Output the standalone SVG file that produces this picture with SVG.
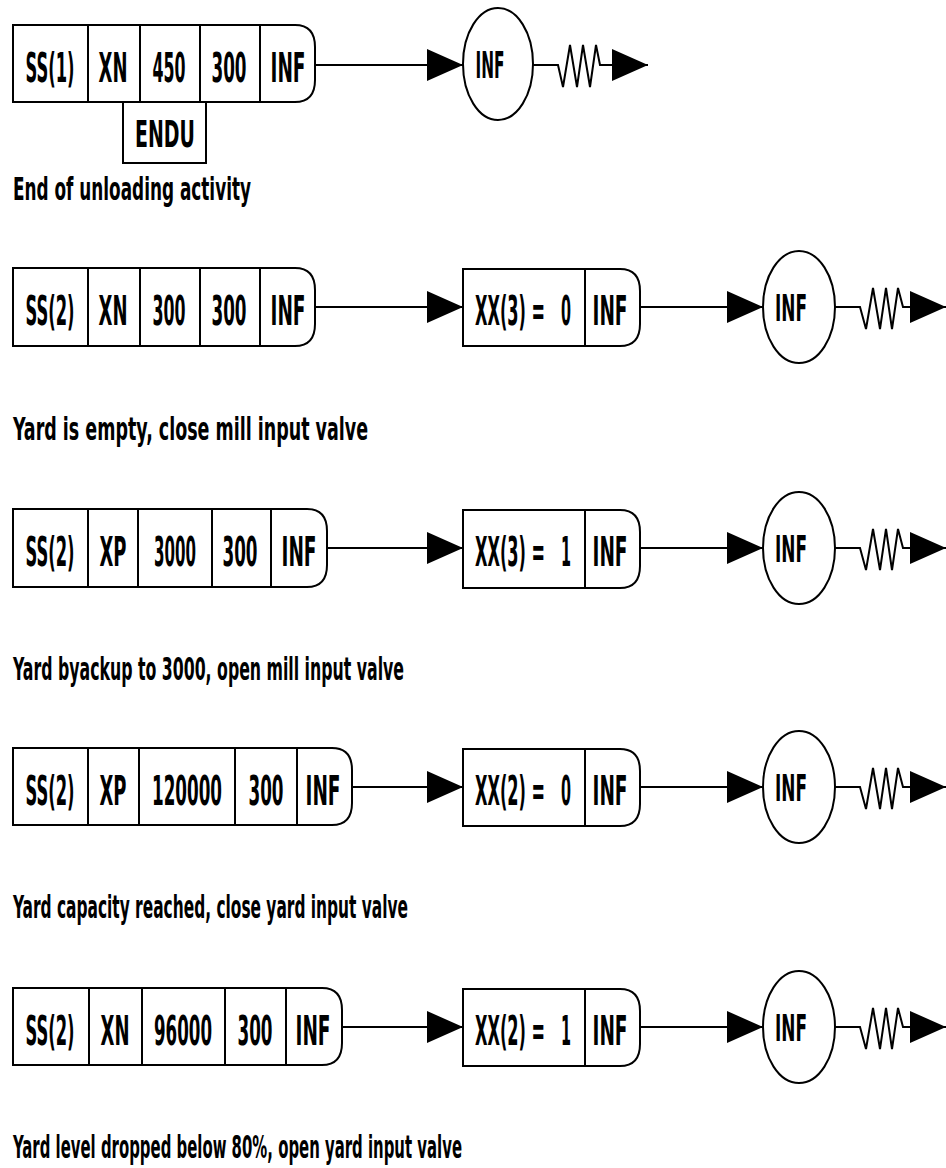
<svg xmlns="http://www.w3.org/2000/svg" width="946" height="1168" viewBox="0 0 946 1168">
<style>
.bx{fill:#fff;stroke:#000;stroke-width:2}
.ln{fill:none;stroke:#000;stroke-width:2}
.t{font-family:"Liberation Sans Narrow","DejaVu Sans Condensed","Liberation Sans",Arial,sans-serif;font-weight:bold;fill:#000;text-anchor:middle}
.s{text-anchor:start}
.big{font-size:41px}
.mid{font-size:37px}
.lab{font-family:"Liberation Sans Narrow","DejaVu Sans Condensed","Liberation Sans",Arial,sans-serif;font-weight:bold;font-size:32px;fill:#000}
</style>
<defs>
<marker id="ah" markerUnits="userSpaceOnUse" markerWidth="36" markerHeight="34" refX="36" refY="17" orient="auto">
<path d="M0,1 L36,17 L0,33 Z" fill="#000"/>
</marker>
</defs>

<g id="row1-signal">
<path class="bx" d="M13,25 H295 Q315,25 315,47 V80 Q315,102 295,102 H13 Z"/>
<path class="ln" d="M88,25 V102 M140,25 V102 M200,25 V102 M260,25 V102"/>
<text class="t big" transform="translate(50,82) scale(0.45,1)" textLength="108.9" lengthAdjust="spacingAndGlyphs">SS(1)</text>
<text class="t big" transform="translate(113,82) scale(0.45,1)" textLength="64.4" lengthAdjust="spacingAndGlyphs">XN</text>
<text class="t big" transform="translate(169,82) scale(0.45,1)" textLength="73.3" lengthAdjust="spacingAndGlyphs">450</text>
<text class="t big" transform="translate(229,82) scale(0.45,1)" textLength="77.8" lengthAdjust="spacingAndGlyphs">300</text>
<text class="t big" transform="translate(288,82) scale(0.45,1)" textLength="77.8" lengthAdjust="spacingAndGlyphs">INF</text>
</g>
<g id="row1-endu">
<rect class="bx" x="123" y="102" width="83" height="61"/>
<text class="t mid" transform="translate(165,147) scale(0.5,1)" textLength="120" lengthAdjust="spacingAndGlyphs">ENDU</text>
</g>
<g id="row1-activity">
<ellipse class="bx" cx="498" cy="64" rx="35" ry="56"/>
<text class="t mid" transform="translate(490,78) scale(0.5,1)" textLength="58" lengthAdjust="spacingAndGlyphs">INF</text>
</g>
<text class="lab" transform="translate(13,200) scale(0.55,1)" textLength="432.7" lengthAdjust="spacingAndGlyphs">End of unloading activity</text>

<g id="row2-signal">
<path class="bx" d="M13,268 H295 Q315,268 315,290 V324 Q315,346 295,346 H13 Z"/>
<path class="ln" d="M88,268 V346 M140,268 V346 M200,268 V346 M260,268 V346"/>
<text class="t big" transform="translate(50,325) scale(0.45,1)" textLength="108.9" lengthAdjust="spacingAndGlyphs">SS(2)</text>
<text class="t big" transform="translate(113,325) scale(0.45,1)" textLength="64.4" lengthAdjust="spacingAndGlyphs">XN</text>
<text class="t big" transform="translate(169,325) scale(0.45,1)" textLength="73.3" lengthAdjust="spacingAndGlyphs">300</text>
<text class="t big" transform="translate(229,325) scale(0.45,1)" textLength="77.8" lengthAdjust="spacingAndGlyphs">300</text>
<text class="t big" transform="translate(288,325) scale(0.45,1)" textLength="77.8" lengthAdjust="spacingAndGlyphs">INF</text>
</g>
<g id="row2-assign">
<path class="bx" d="M463,269 H620 Q640,269 640,291 V324 Q640,346 620,346 H463 Z"/>
<path class="ln" d="M585,269 V346"/>
<text class="t s big" transform="translate(475,325) scale(0.45,1)" textLength="155.6" lengthAdjust="spacingAndGlyphs">XX(3) =</text>
<text class="t s big" transform="translate(561,325) scale(0.45,1)" textLength="22.2" lengthAdjust="spacingAndGlyphs">0</text>
<text class="t big" transform="translate(610,325) scale(0.45,1)" textLength="77.8" lengthAdjust="spacingAndGlyphs">INF</text>
</g>
<g id="row2-activity">
<ellipse class="bx" cx="799" cy="307" rx="36" ry="56"/>
<text class="t mid" transform="translate(791,321) scale(0.5,1)" textLength="64" lengthAdjust="spacingAndGlyphs">INF</text>
</g>
<text class="lab" transform="translate(13,440) scale(0.55,1)" textLength="645.5" lengthAdjust="spacingAndGlyphs">Yard is empty, close mill input valve</text>

<g id="row3-signal">
<path class="bx" d="M13,509 H307 Q327,509 327,531 V565 Q327,587 307,587 H13 Z"/>
<path class="ln" d="M88,509 V587 M138,509 V587 M212,509 V587 M271,509 V587"/>
<text class="t big" transform="translate(50,566) scale(0.45,1)" textLength="108.9" lengthAdjust="spacingAndGlyphs">SS(2)</text>
<text class="t big" transform="translate(113,566) scale(0.45,1)" textLength="60" lengthAdjust="spacingAndGlyphs">XP</text>
<text class="t big" transform="translate(175,566) scale(0.45,1)" textLength="93.3" lengthAdjust="spacingAndGlyphs">3000</text>
<text class="t big" transform="translate(240,566) scale(0.45,1)" textLength="77.8" lengthAdjust="spacingAndGlyphs">300</text>
<text class="t big" transform="translate(299,566) scale(0.45,1)" textLength="77.8" lengthAdjust="spacingAndGlyphs">INF</text>
</g>
<g id="row3-assign">
<path class="bx" d="M463,510 H620 Q640,510 640,532 V566 Q640,588 620,588 H463 Z"/>
<path class="ln" d="M585,510 V588"/>
<text class="t s big" transform="translate(475,566) scale(0.45,1)" textLength="155.6" lengthAdjust="spacingAndGlyphs">XX(3) =</text>
<text class="t s big" transform="translate(561,566) scale(0.45,1)" textLength="22.2" lengthAdjust="spacingAndGlyphs">1</text>
<text class="t big" transform="translate(610,566) scale(0.45,1)" textLength="77.8" lengthAdjust="spacingAndGlyphs">INF</text>
</g>
<g id="row3-activity">
<ellipse class="bx" cx="799" cy="548" rx="36" ry="56"/>
<text class="t mid" transform="translate(791,562) scale(0.5,1)" textLength="64" lengthAdjust="spacingAndGlyphs">INF</text>
</g>
<text class="lab" transform="translate(13,680) scale(0.55,1)" textLength="710.9" lengthAdjust="spacingAndGlyphs">Yard byackup to 3000, open mill input valve</text>

<g id="row4-signal">
<path class="bx" d="M13,748 H332 Q352,748 352,770 V803 Q352,825 332,825 H13 Z"/>
<path class="ln" d="M88,748 V825 M139,748 V825 M235,748 V825 M297,748 V825"/>
<text class="t big" transform="translate(50,805) scale(0.45,1)" textLength="108.9" lengthAdjust="spacingAndGlyphs">SS(2)</text>
<text class="t big" transform="translate(113,805) scale(0.45,1)" textLength="60" lengthAdjust="spacingAndGlyphs">XP</text>
<text class="t big" transform="translate(187,805) scale(0.45,1)" textLength="155.6" lengthAdjust="spacingAndGlyphs">120000</text>
<text class="t big" transform="translate(266,805) scale(0.45,1)" textLength="77.8" lengthAdjust="spacingAndGlyphs">300</text>
<text class="t big" transform="translate(323,805) scale(0.45,1)" textLength="77.8" lengthAdjust="spacingAndGlyphs">INF</text>
</g>
<g id="row4-assign">
<path class="bx" d="M463,749 H620 Q640,749 640,771 V804 Q640,826 620,826 H463 Z"/>
<path class="ln" d="M585,749 V826"/>
<text class="t s big" transform="translate(475,805) scale(0.45,1)" textLength="155.6" lengthAdjust="spacingAndGlyphs">XX(2) =</text>
<text class="t s big" transform="translate(561,805) scale(0.45,1)" textLength="22.2" lengthAdjust="spacingAndGlyphs">0</text>
<text class="t big" transform="translate(610,805) scale(0.45,1)" textLength="77.8" lengthAdjust="spacingAndGlyphs">INF</text>
</g>
<g id="row4-activity">
<ellipse class="bx" cx="799" cy="787" rx="36" ry="56"/>
<text class="t mid" transform="translate(791,801) scale(0.5,1)" textLength="64" lengthAdjust="spacingAndGlyphs">INF</text>
</g>
<text class="lab" transform="translate(13,918) scale(0.55,1)" textLength="718.2" lengthAdjust="spacingAndGlyphs">Yard capacity reached, close yard input valve</text>

<g id="row5-signal">
<path class="bx" d="M13,988 H322 Q342,988 342,1010 V1043 Q342,1065 322,1065 H13 Z"/>
<path class="ln" d="M89,988 V1065 M142,988 V1065 M225,988 V1065 M286,988 V1065"/>
<text class="t big" transform="translate(50,1045) scale(0.45,1)" textLength="108.9" lengthAdjust="spacingAndGlyphs">SS(2)</text>
<text class="t big" transform="translate(115,1045) scale(0.45,1)" textLength="64.4" lengthAdjust="spacingAndGlyphs">XN</text>
<text class="t big" transform="translate(183,1045) scale(0.45,1)" textLength="128.9" lengthAdjust="spacingAndGlyphs">96000</text>
<text class="t big" transform="translate(255,1045) scale(0.45,1)" textLength="77.8" lengthAdjust="spacingAndGlyphs">300</text>
<text class="t big" transform="translate(313,1045) scale(0.45,1)" textLength="77.8" lengthAdjust="spacingAndGlyphs">INF</text>
</g>
<g id="row5-assign">
<path class="bx" d="M463,989 H620 Q640,989 640,1011 V1044 Q640,1066 620,1066 H463 Z"/>
<path class="ln" d="M585,989 V1066"/>
<text class="t s big" transform="translate(475,1045) scale(0.45,1)" textLength="155.6" lengthAdjust="spacingAndGlyphs">XX(2) =</text>
<text class="t s big" transform="translate(561,1045) scale(0.45,1)" textLength="22.2" lengthAdjust="spacingAndGlyphs">1</text>
<text class="t big" transform="translate(610,1045) scale(0.45,1)" textLength="77.8" lengthAdjust="spacingAndGlyphs">INF</text>
</g>
<g id="row5-activity">
<ellipse class="bx" cx="799" cy="1027" rx="36" ry="56"/>
<text class="t mid" transform="translate(791,1041) scale(0.5,1)" textLength="64" lengthAdjust="spacingAndGlyphs">INF</text>
</g>
<text class="lab" transform="translate(13,1158) scale(0.55,1)" textLength="816.4" lengthAdjust="spacingAndGlyphs">Yard level dropped below 80%, open yard input valve</text>

<g id="connectors">
<path class="ln" marker-end="url(#ah)" d="M315,65 H463"/>
<path class="ln" marker-end="url(#ah)" d="M533,65 H558 L563,87 L570,45 L577,87 L583,45 L590,87 L596,45 L600,65 H648"/>

<path class="ln" marker-end="url(#ah)" d="M315,307 H463"/>
<path class="ln" marker-end="url(#ah)" d="M640,307 H763"/>
<path class="ln" marker-end="url(#ah)" d="M835,307 H860 L866,329 L873,288 L880,329 L886,288 L892,329 L898,288 L903,307 H946"/>

<path class="ln" marker-end="url(#ah)" d="M327,548 H463"/>
<path class="ln" marker-end="url(#ah)" d="M640,548 H763"/>
<path class="ln" marker-end="url(#ah)" d="M835,548 H860 L866,570 L873,529 L880,570 L886,529 L892,570 L898,529 L903,548 H946"/>

<path class="ln" marker-end="url(#ah)" d="M352,787 H463"/>
<path class="ln" marker-end="url(#ah)" d="M640,787 H763"/>
<path class="ln" marker-end="url(#ah)" d="M835,787 H860 L866,809 L873,768 L880,809 L886,768 L892,809 L898,768 L903,787 H946"/>

<path class="ln" marker-end="url(#ah)" d="M342,1027 H463"/>
<path class="ln" marker-end="url(#ah)" d="M640,1027 H763"/>
<path class="ln" marker-end="url(#ah)" d="M835,1027 H860 L866,1049 L873,1008 L880,1049 L886,1008 L892,1049 L898,1008 L903,1027 H946"/>
</g>
</svg>
